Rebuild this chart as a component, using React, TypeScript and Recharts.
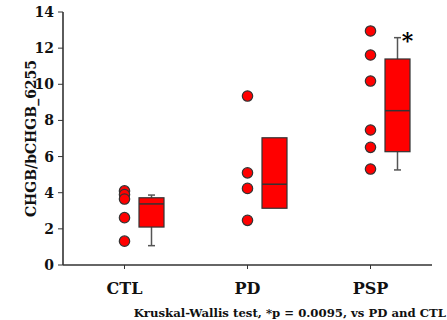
import React from 'react';
import { ComposedChart, XAxis, YAxis, Bar, Scatter } from 'recharts';

const categories = ['CTL', 'PD', 'PSP'];
const ctlPoints = [4.1, 3.9, 3.65, 2.62, 1.32];
const pdPoints = [9.35, 5.1, 4.24, 2.47];
const pspPoints = [12.95, 11.62, 10.18, 7.47, 6.51, 5.31];
const q1 = [2.1, 3.14, 6.27];
const median = [3.38, 4.47, 8.54];
const q3 = [3.72, 7.04, 11.4];
const whiskerLow = [1.07, 3.14, 5.26];
const whiskerHigh = [3.87, 7.04, 12.58];
const significance = ['', '', '*'];
const yTicks = [0, 2, 4, 6, 8, 10, 12, 14];
const yLabel = 'CHGB/bCHGB_6255';
const footnote = 'Kruskal-Wallis test, *p = 0.0095, vs PD and CTL';

const boxes = categories.map((c, i) => ({
  cat: c,
  q1: q1[i],
  median: median[i],
  q3: q3[i],
  wlo: whiskerLow[i],
  whi: whiskerHigh[i],
  sig: significance[i],
}));

const toPoints = (vals: number[], i: number) => vals.map((v) => ({ x: i + 0.5, y: v }));
const groups = [ctlPoints, pdPoints, pspPoints].map((v, i) => toPoints(v, i));

const FONT = 'DejaVu Serif';
const AXIS = '#333';
const RED = '#ff0000';
const BOX_OFFSET = 27;

const BoxShape = (props: any) => {
  const { x, y, width, height, payload } = props;
  const { q1, q3, median, wlo, whi, sig } = payload;
  const k = height / (whi - wlo);
  const py = (v: number) => y + (whi - v) * k;
  const cx = x + width / 2 + BOX_OFFSET;
  const left = cx - width / 2;
  const cap = 3.5;
  return (
    <g>
      {whi > q3 && (
        <g stroke="#555" strokeWidth={1.5}>
          <line x1={cx} x2={cx} y1={py(whi)} y2={py(q3)} />
          <line x1={cx - cap} x2={cx + cap} y1={py(whi)} y2={py(whi)} />
        </g>
      )}
      {wlo < q1 && (
        <g stroke="#555" strokeWidth={1.5}>
          <line x1={cx} x2={cx} y1={py(q1)} y2={py(wlo)} />
          <line x1={cx - cap} x2={cx + cap} y1={py(wlo)} y2={py(wlo)} />
        </g>
      )}
      <rect x={left} y={py(q3)} width={width} height={py(q1) - py(q3)} fill={RED} stroke="#333" strokeWidth={1.2} />
      <line x1={left} x2={left + width} y1={py(median)} y2={py(median)} stroke="#333" strokeWidth={1.5} />
      {sig && (
        <text x={cx + 10} y={py(whi) + 10} fontFamily={FONT} fontWeight="bold" fontSize={22} textAnchor="middle" fill="#000">
          {sig}
        </text>
      )}
    </g>
  );
};

const Dot = (props: any) => {
  const { cx, cy } = props;
  return <circle cx={cx} cy={cy} r={5.2} fill={RED} stroke="#333" strokeWidth={1.2} />;
};

const YLabel = (props: any) => {
  const vb = props.viewBox || {};
  const x = (vb.x ?? 0) + 31;
  const y = (vb.y ?? 0) + (vb.height ?? 0) / 2;
  return (
    <text x={x} y={y} transform={`rotate(-90, ${x}, ${y})`} textAnchor="middle" dominantBaseline="central"
      fontFamily={FONT} fontWeight="bold" fontSize={14} fill="#111">
      {yLabel}
    </text>
  );
};

const FootLabel = (props: any) => {
  const vb = props.viewBox || {};
  const x = (vb.x ?? 0) + (vb.width ?? 0) + 14;
  const y = (vb.y ?? 0) + 52;
  return (
    <text x={x} y={y} textAnchor="end" fontFamily={FONT} fontWeight="bold" fontSize={11.7} fill="#111">
      {footnote}
    </text>
  );
};

export default function App() {
  const tickStyle = { fontFamily: FONT, fontWeight: 'bold' as const, fill: '#111' };
  return (
    <div style={{ position: 'absolute', left: 0, top: 0, background: '#fff' }}>
      <ComposedChart width={447} height={320} data={boxes} margin={{ top: 12, right: 15, bottom: 25, left: 0 }}>
        <XAxis
          dataKey="cat"
          type="category"
          height={30}
          tick={{ ...tickStyle, fontSize: 16 }}
          tickSize={4}
          tickMargin={14}
          axisLine={{ stroke: AXIS, strokeWidth: 1.6 }}
          tickLine={{ stroke: AXIS }}
          label={<FootLabel />}
        />
        <XAxis xAxisId="num" dataKey="x" type="number" domain={[0, 3]} hide />
        <XAxis xAxisId="top" dataKey="cat" orientation="top" height={0} tick={false} tickLine={false}
          axisLine={{ stroke: AXIS, strokeWidth: 1.6 }} />
        <YAxis
          type="number"
          domain={[0, 14]}
          ticks={yTicks}
          width={63}
          tick={{ ...tickStyle, fontSize: 14 }}
          tickSize={5}
          tickMargin={4}
          axisLine={{ stroke: AXIS, strokeWidth: 1.6 }}
          tickLine={{ stroke: AXIS }}
          label={<YLabel />}
        />
        <YAxis yAxisId="right" orientation="right" domain={[0, 14]} width={0} tick={false} tickLine={false}
          axisLine={{ stroke: AXIS, strokeWidth: 1.6 }} />
        <Bar dataKey={(d: any) => [d.wlo, d.whi]} barSize={25} shape={<BoxShape />} isAnimationActive={false} />
        {groups.map((g, i) => (
          <Scatter key={i} xAxisId="num" data={g} dataKey="y" shape={<Dot />} isAnimationActive={false} />
        ))}
      </ComposedChart>
    </div>
  );
}
